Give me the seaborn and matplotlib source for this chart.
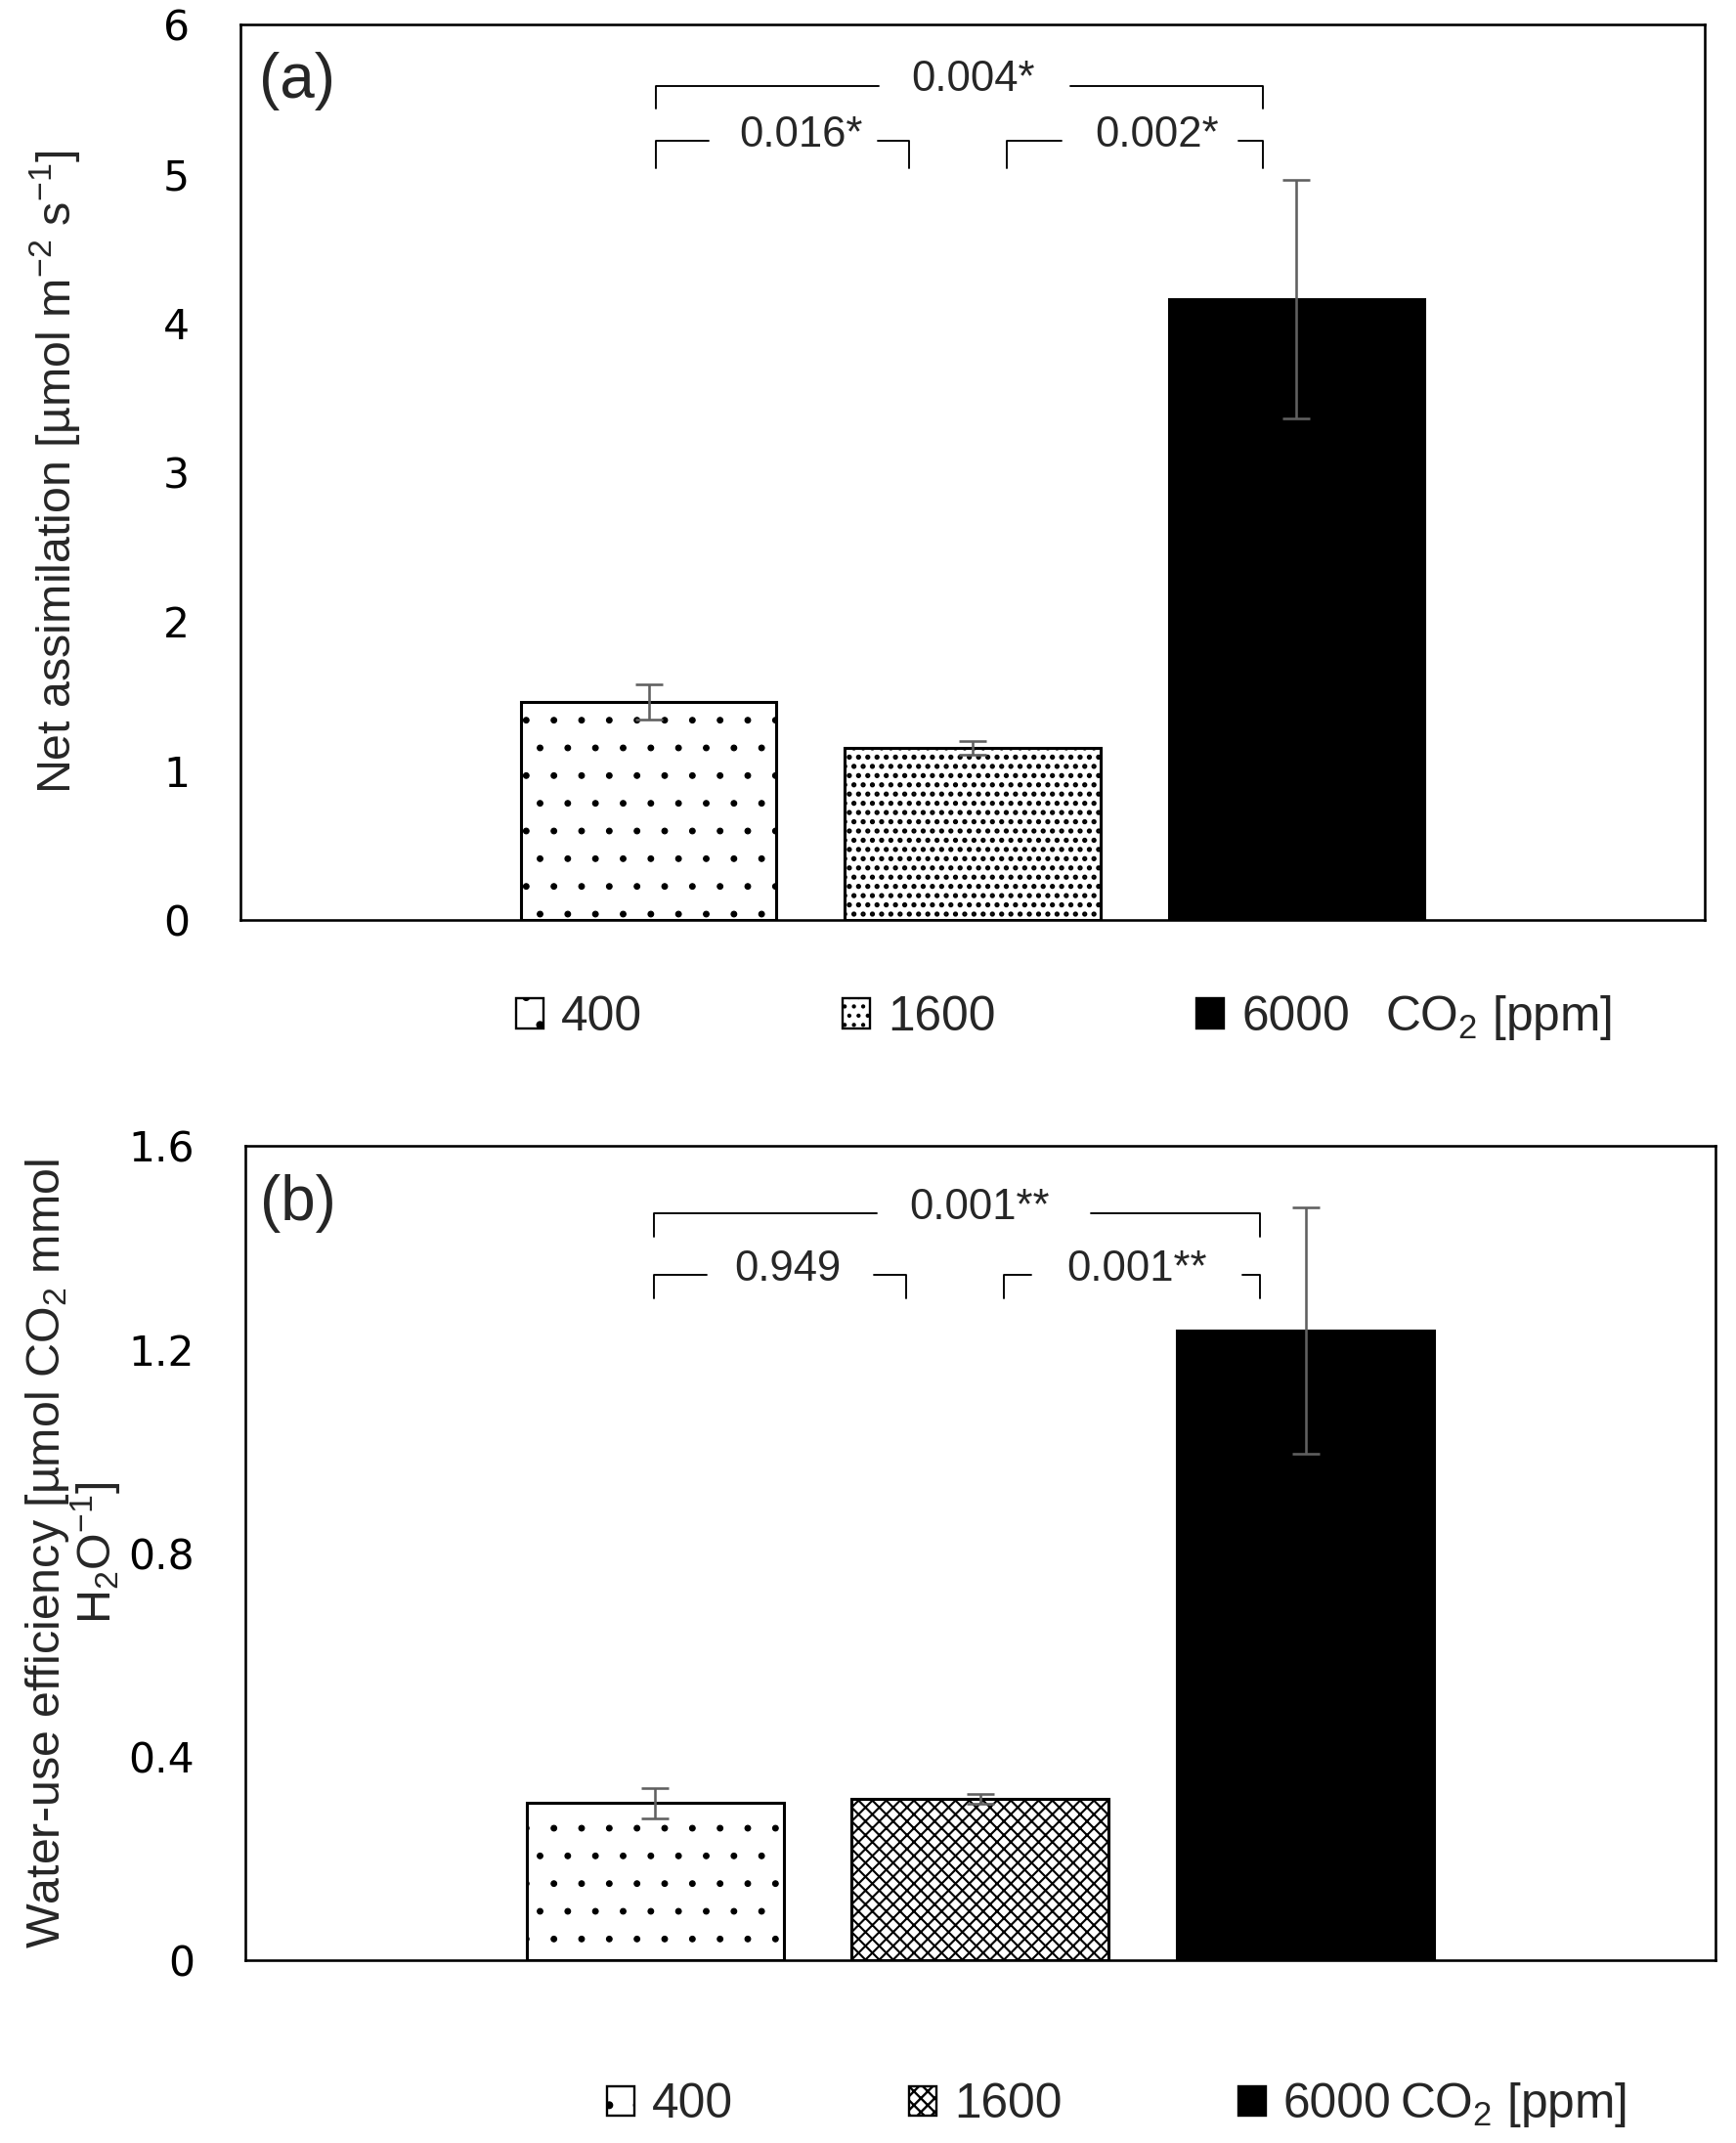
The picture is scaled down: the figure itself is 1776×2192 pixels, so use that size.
import pandas as pd
import seaborn as sns
import matplotlib.pyplot as plt
from matplotlib.patches import Patch

# valores
co2_levels = ['400', '1600', '6000']
net_assim = [1.46, 1.155, 4.16]
net_assim_err = [0.12, 0.045, 0.80]
wue = [0.309, 0.317, 1.237]
wue_err = [0.030, 0.010, 0.242]
p_labels_a = ['0.004*', '0.016*', '0.002*']
p_labels_b = ['0.001**', '0.949', '0.001**']
yticks_a = [0, 1, 2, 3, 4, 5, 6]
yticks_b = [0, 0.4, 0.8, 1.2, 1.6]
ytick_labels_b = ['0', '0.4', '0.8', '1.2', '1.6']

DPI = 170
sns.set_style("white")
label_font = ['Liberation Sans Narrow', 'Liberation Sans', 'DejaVu Sans']
plt.rcParams['font.family'] = ['DejaVu Sans']
plt.rcParams['mathtext.fontset'] = 'custom'
plt.rcParams['mathtext.rm'] = 'Liberation Sans'
plt.rcParams['hatch.linewidth'] = 1.0
plt.rcParams['hatch.color'] = 'black'

fig = plt.figure(figsize=(1776 / DPI, 2192 / DPI), dpi=DPI)
ax_a = fig.add_axes([0.1385, 0.5707, 0.8435, 0.4179])
ax_b = fig.add_axes([0.1413, 0.0853, 0.8468, 0.3800])

df_a = pd.DataFrame({'co2': co2_levels, 'val': net_assim})
df_b = pd.DataFrame({'co2': co2_levels, 'val': wue})

colores = ['white', 'white', 'black']


def hatch_lw(patch, lw):
    if hasattr(patch, 'set_hatch_linewidth'):
        patch.set_hatch_linewidth(lw)


def draw_panel(ax, df, errs, hatches, hlws, yticks, yticklabels, ylim):
    sns.barplot(data=df, x='co2', y='val', hue='co2', palette=colores,
                order=co2_levels, hue_order=co2_levels, legend=False,
                width=0.79, edgecolor='black', linewidth=1.3, ax=ax,
                saturation=1)
    for bar, h, lw in zip(ax.patches, hatches, hlws):
        bar.set_hatch(h)
        hatch_lw(bar, lw)
    ax.errorbar(range(len(co2_levels)), df['val'], yerr=errs, fmt='none',
                ecolor='#606060', elinewidth=1.1, capsize=6, capthick=1.1,
                zorder=5)
    ax.set_xlim(-1.26, 3.26)
    ax.set_ylim(*ylim)
    ax.set_yticks(yticks)
    ax.set_yticklabels(yticklabels)
    ax.set_xticks([])
    ax.set_xlabel('')
    ax.tick_params(axis='y', direction='in', length=5, width=1, pad=22,
                   labelsize=18, colors='black')
    for sp in ax.spines.values():
        sp.set_visible(True)
        sp.set_color('black')
        sp.set_linewidth(1.1)


def bracket(ax, x0, x1, y, drop, g0, g1, tx, dy, text):
    ax.plot([x0, x0, g0], [y - drop, y, y], color='black', lw=0.8)
    ax.plot([g1, x1, x1], [y, y, y - drop], color='black', lw=0.8)
    ax.text(tx, y + dy, text, ha='center', va='center', fontsize=18.5,
            family=label_font)


# (a) asimilacion neta
draw_panel(ax_a, df_a, net_assim_err, ['.', '...', ''], [0.5, 1.4, 1.0],
           yticks_a, [str(t) for t in yticks_a], (0, 6))
ax_a.set_ylabel(r'Net assimilation [µmol m$^{-2}$ s$^{-1}$]', fontsize=20.5,
                family=label_font, ha='center', va='center')
ax_a.yaxis.set_label_coords(-0.127, 0.5)
ax_a.text(0.0387, 0.937, '(a)', transform=ax_a.transAxes, fontsize=27,
          ha='center', va='center', family=label_font)
bracket(ax_a, 0.021, 1.895, 5.59, 0.155, 0.711, 1.301, 1.0, 0.04, p_labels_a[0])
bracket(ax_a, 0.021, 0.803, 5.218, 0.18, 0.184, 0.707, 0.469, 0.04, p_labels_a[1])
bracket(ax_a, 1.105, 1.895, 5.218, 0.18, 1.276, 1.820, 1.569, 0.04, p_labels_a[2])

# (b) eficiencia en el uso del agua
draw_panel(ax_b, df_b, wue_err, ['.', 'xxxx', ''], [0.5, 0.9, 1.0],
           yticks_b, ytick_labels_b, (0, 1.6))
ax_b.set_ylabel('Water-use efficiency [µmol CO$_2$ mmol\nH$_2$O$^{-1}$]',
                fontsize=20.5, family=label_font, ha='center', va='center',
                linespacing=0.95)
ax_b.yaxis.set_label_coords(-0.117, 0.5)
ax_b.text(0.036, 0.929, '(b)', transform=ax_b.transAxes, fontsize=27,
          ha='center', va='center', family=label_font)
bracket(ax_b, -0.004, 1.859, 1.467, 0.046, 0.682, 1.339, 0.998, 0.011, p_labels_b[0])
bracket(ax_b, -0.004, 0.773, 1.347, 0.046, 0.158, 0.674, 0.407, 0.011, p_labels_b[1])
bracket(ax_b, 1.073, 1.859, 1.347, 0.046, 1.156, 1.805, 1.480, 0.011, p_labels_b[2])


# leyendas debajo de cada panel
def leyenda(ax, h1600, x_left, y_mid, colspace, co2_x):
    handles = [Patch(facecolor='white', edgecolor='black', hatch='.', lw=1),
               Patch(facecolor='white', edgecolor='black', hatch=h1600, lw=1),
               Patch(facecolor='black', edgecolor='black', lw=1)]
    hatch_lw(handles[0], 0.5)
    ax.legend(handles, co2_levels, loc='center left',
              bbox_to_anchor=(x_left, y_mid), ncol=3, frameon=False,
              handlelength=0.57, handleheight=0.57, handletextpad=0.36,
              columnspacing=colspace, borderpad=0, borderaxespad=0,
              prop={'family': label_font, 'size': 21})
    ax.text(co2_x, y_mid, 'CO$_2$ [ppm]', transform=ax.transAxes,
            ha='left', va='center', fontsize=21, family=label_font)


leyenda(ax_a, '...', 0.188, -0.109, 4.14, 0.782)
leyenda(ax_b, 'xxxx', 0.246, -0.178, 3.63, 0.785)

fig.savefig('out.png', dpi=DPI, facecolor='white')
